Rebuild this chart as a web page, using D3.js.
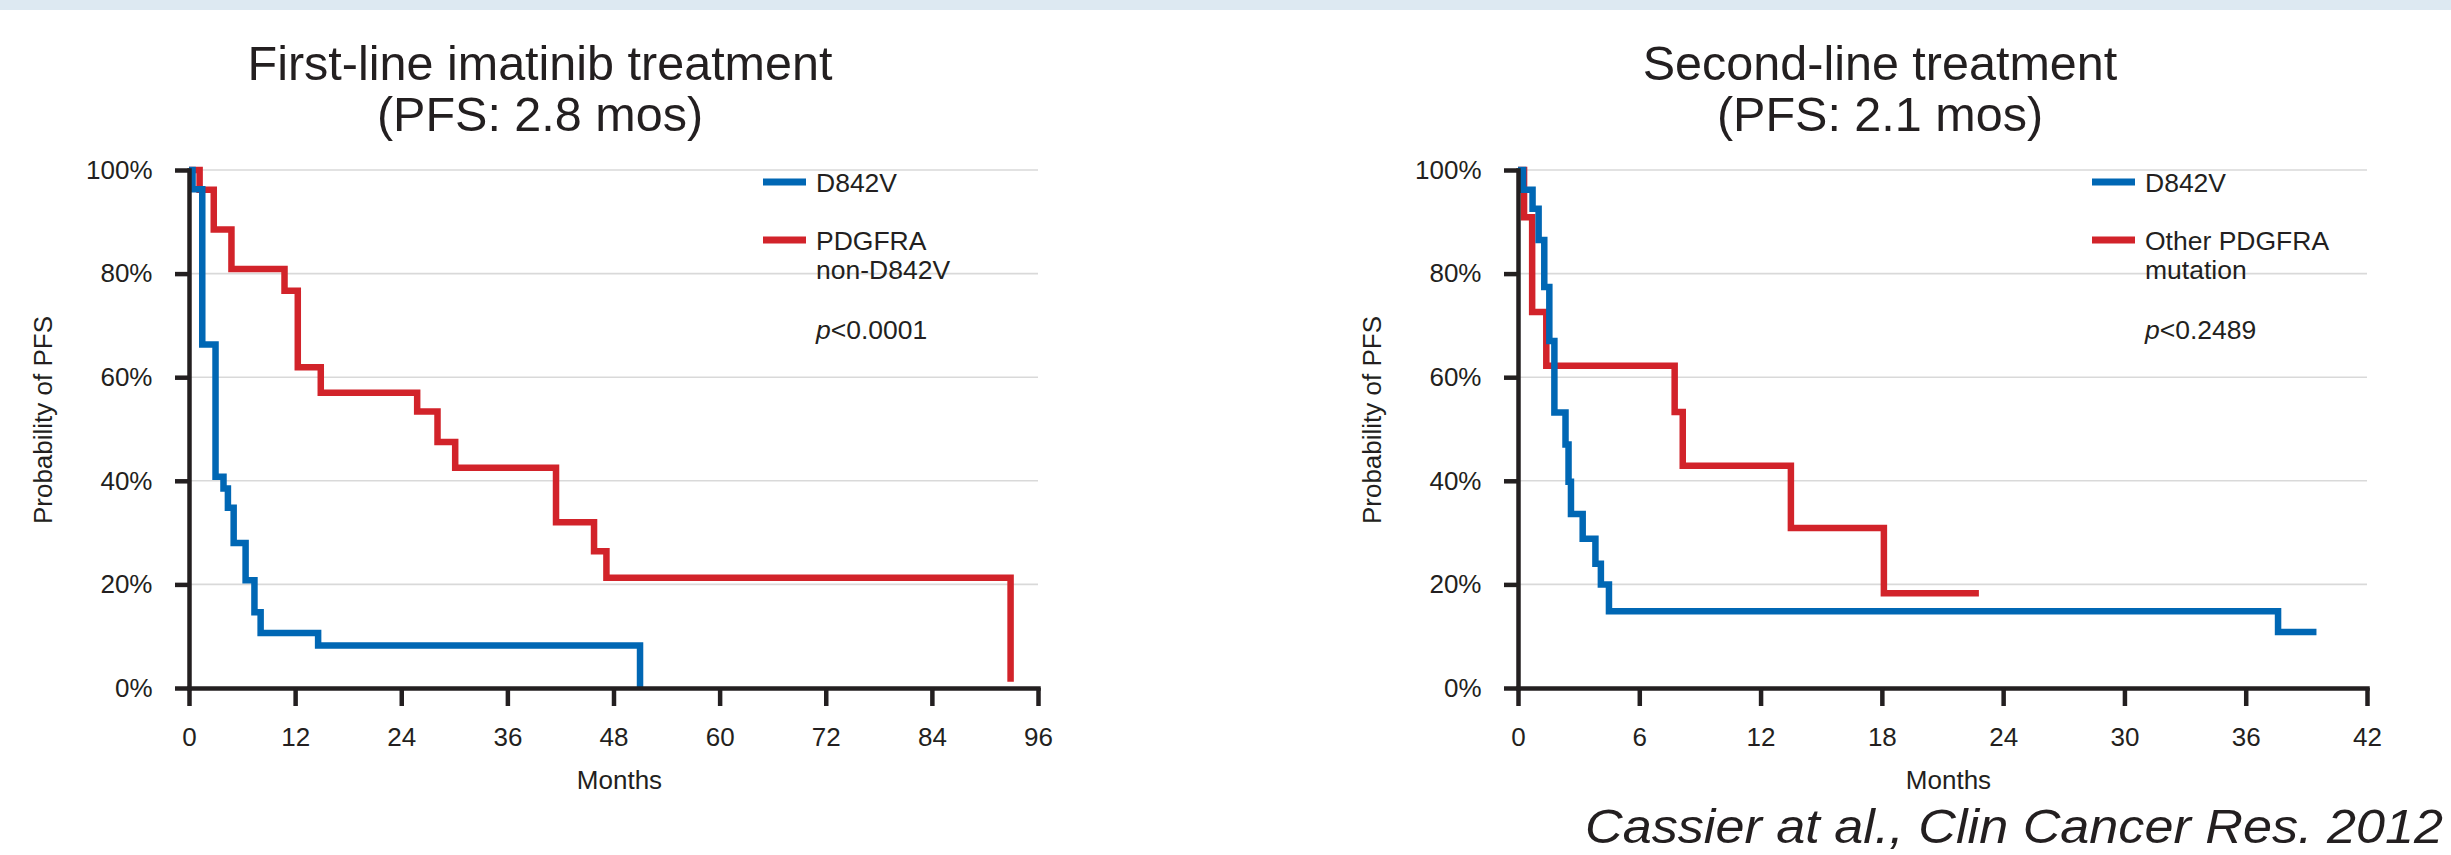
<!DOCTYPE html>
<html><head><meta charset="utf-8">
<script src="https://cdn.jsdelivr.net/npm/d3@7"></script>
<style>
body{margin:0;background:#fff}
svg{display:block}
text{font-family:"Liberation Sans",Arial,Helvetica,sans-serif;fill:#231f20}
</style>
</head><body>
<svg id="chart" width="2451" height="855"></svg>
<script>
// ---------- DATA ----------
// First-line imatinib treatment
const firstD842VMonths = [0, 0.4, 1.5, 3.0, 3.9, 4.4, 5.05, 6.4, 7.4, 8.1, 14.6, 51.0];
const firstD842VPfs    = [100, 96.3, 66.3, 40.8, 38.5, 34.8, 28.0, 20.8, 14.6, 10.6, 8.2, 0];
const firstOtherMonths = [0, 1.2, 2.8, 4.8, 10.8, 12.3, 14.9, 25.8, 28.1, 30.1, 41.5, 45.8, 47.2, 92.9];
const firstOtherPfs    = [100, 96.2, 88.5, 80.9, 76.7, 61.9, 57.0, 53.4, 47.5, 42.5, 32.0, 26.4, 21.3, 1.2];
// Second-line treatment
const secondD842VMonths = [0, 0.25, 0.72, 1.02, 1.3, 1.55, 1.8, 2.35, 2.5, 2.62, 3.2, 3.83, 4.1, 4.5, 37.6, 39.5];
const secondD842VPfs    = [100, 96.2, 92.5, 86.5, 77.4, 67.0, 53.2, 47.0, 39.8, 33.6, 28.8, 24.0, 20.0, 14.8, 10.8, 10.8];
const secondOtherMonths = [0, 0.3, 0.7, 1.4, 7.75, 8.15, 13.5, 18.1, 22.8];
const secondOtherPfs    = [100, 90.9, 72.6, 62.2, 53.3, 42.9, 30.9, 18.3, 18.3];

const yTicks = [0, 20, 40, 60, 80, 100];
const firstXTicks = [0, 12, 24, 36, 48, 60, 72, 84, 96];
const secondXTicks = [0, 6, 12, 18, 24, 30, 36, 42];

const firstTitle = ["First-line imatinib treatment", "(PFS: 2.8 mos)"];
const secondTitle = ["Second-line treatment", "(PFS: 2.1 mos)"];
const firstLegend = [["D842V"], ["PDGFRA", "non-D842V"]];
const secondLegend = [["D842V"], ["Other PDGFRA", "mutation"]];
const firstP = "<0.0001";
const secondP = "<0.2489";
const yLabel = "Probability of PFS";
const xLabel = "Months";
const citation = "Cassier at al., Clin Cancer Res. 2012";

// ---------- STYLE ----------
const BLUE = "#0067b4", RED = "#d2232a", INK = "#231f20", GRID = "#d9d9d9";

const svg = d3.select("#chart");
svg.append("rect").attr("x", 0).attr("y", 0).attr("width", 2451).attr("height", 10).attr("fill", "#dde9f2");

const panels = [
  {x0: 189, x1: 1038, max: 96, ticks: firstXTicks, title: firstTitle, titleX: 540,
   legend: firstLegend, p: firstP,
   series: [{m: firstOtherMonths, s: firstOtherPfs, c: RED}, {m: firstD842VMonths, s: firstD842VPfs, c: BLUE}]},
  {x0: 1518, x1: 2367, max: 42, ticks: secondXTicks, title: secondTitle, titleX: 1880,
   legend: secondLegend, p: secondP,
   series: [{m: secondOtherMonths, s: secondOtherPfs, c: RED}, {m: secondD842VMonths, s: secondD842VPfs, c: BLUE}]}
];

panels.forEach(P => {
  const x = d3.scaleLinear().domain([0, P.max]).range([P.x0, P.x1]);
  const y = d3.scaleLinear().domain([0, 100]).range([688, 170]);
  const g = svg.append("g");

  // title
  g.append("text").attr("x", P.titleX).attr("y", 80).attr("text-anchor", "middle")
    .attr("font-size", 48.5).text(P.title[0]);
  g.append("text").attr("x", P.titleX).attr("y", 131).attr("text-anchor", "middle")
    .attr("font-size", 48.5).text(P.title[1]);

  // gridlines
  g.append("g").selectAll("line").data(yTicks.filter(d => d > 0)).join("line")
    .attr("x1", x(0)).attr("x2", x(P.max)).attr("y1", d => y(d)).attr("y2", d => y(d))
    .attr("stroke", GRID).attr("stroke-width", 1.6);

  // legend
  const lx1 = P.x0 + 574, lx2 = P.x0 + 617, tx = P.x0 + 627;
  const legY = [182, 240];
  P.legend.forEach((lines, i) => {
    const col = i === 0 ? BLUE : RED;
    g.append("line").attr("x1", lx1).attr("x2", lx2).attr("y1", legY[i]).attr("y2", legY[i])
      .attr("stroke", col).attr("stroke-width", 7);
    lines.forEach((t, j) => {
      g.append("text").attr("x", tx).attr("y", legY[i] + 10 + j * 29).attr("font-size", 26.5).text(t);
    });
  });
  const pt = g.append("text").attr("x", tx).attr("y", 339).attr("font-size", 26.5);
  pt.append("tspan").attr("font-style", "italic").text("p");
  pt.append("tspan").text(P.p);

  // curves
  const line = d3.line().curve(d3.curveStepAfter).x(d => x(d[0])).y(d => y(d[1]));
  P.series.forEach(S => {
    const pts = S.m.map((m, i) => [m, S.s[i]]);
    g.append("path").attr("d", line(pts)).attr("fill", "none").attr("stroke", S.c)
      .attr("stroke-width", 6.5).attr("stroke-linejoin", "miter").attr("stroke-linecap", "butt");
  });

  // axes
  const ax = g.append("g").attr("transform", `translate(0,688)`)
    .call(d3.axisBottom(x).tickValues(P.ticks).tickFormat(d3.format("d")).tickSize(18).tickSizeOuter(0).tickPadding(21.5));
  const ay = g.append("g").attr("transform", `translate(${P.x0},0)`)
    .call(d3.axisLeft(y).tickValues(yTicks).tickFormat(d => d + "%").tickSize(14).tickSizeOuter(0).tickPadding(22.5));
  [ax, ay].forEach(a => {
    a.selectAll(".domain").attr("stroke", INK).attr("stroke-width", 4.5).attr("stroke-linecap", "square");
    a.selectAll(".tick line").attr("stroke", INK).attr("stroke-width", 4.5);
    a.selectAll(".tick text").attr("font-size", 26).attr("fill", INK)
      .attr("font-family", '"Liberation Sans",Arial,Helvetica,sans-serif');
  });

  // axis labels
  g.append("text").attr("x", (P.x0 + P.x1) / 2 + 6).attr("y", 789).attr("text-anchor", "middle")
    .attr("font-size", 26).text(xLabel);
  g.append("text").attr("transform", `translate(${P.x0 - 137},420) rotate(-90)`)
    .attr("text-anchor", "middle").attr("font-size", 26).text(yLabel);
});

svg.append("text").attr("x", 1585).attr("y", 843).attr("font-size", 49).attr("font-style", "italic")
  .attr("textLength", 858).attr("lengthAdjust", "spacingAndGlyphs").text(citation);
</script>
</body></html>
